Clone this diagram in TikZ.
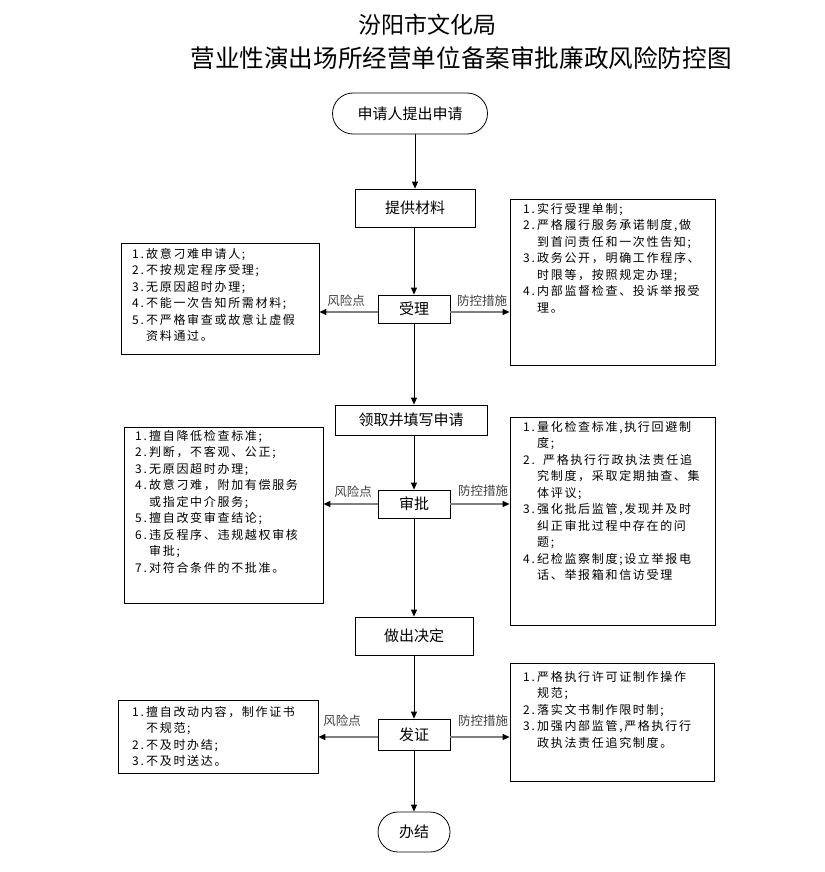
\documentclass[tikz,border=0pt]{standalone}
\usepackage{fontspec}
\setmainfont{Noto Sans CJK SC}
\newfontfamily\boxfont[LetterSpace=14]{Noto Sans CJK SC}
\usetikzlibrary{arrows.meta,shapes.misc}
\newcommand{\numbox}[1]{\makebox[14pt][l]{#1}}
\newcommand{\contind}{\hspace*{14pt}}
\definecolor{sidegray}{HTML}{7F7F7F}
\definecolor{labelgray}{HTML}{404040}
\tikzset{
  stepbox/.style={draw=black, line width=0.8pt, inner sep=0pt, font=\fontsize{15}{18}\selectfont},
  termbox/.style={stepbox, rounded rectangle},
  sidebox/.style={draw=black, line width=0.8pt, inner sep=0pt},
  sidetext/.style={anchor=north west, inner sep=0pt, align=left, font=\boxfont\fontsize{12}{16.5}\selectfont},
  flow/.style={draw=black, line width=0.8pt, -{Triangle[length=7pt,width=6pt]}},
  side/.style={draw=sidegray, line width=1.2pt, -{Triangle[length=7pt,width=6pt,color=black,fill=black]}},
  sidelabel/.style={inner sep=0pt, text=labelgray, font=\fontsize{12.5}{14}\selectfont},
  titlefont/.style={inner sep=0pt, font=\fontsize{23}{26}\selectfont}
}
\begin{document}
\begin{tikzpicture}[x=1pt,y=-1pt]
\useasboundingbox (0,0) rectangle (824,872);
\fill[white] (0,0) rectangle (824,872);

% titles
\node[titlefont] (t1) at (427,25) {汾阳市文化局};
\node[titlefont, font=\fontsize{24.6}{27}\selectfont] (t2) at (461,58) {营业性演出场所经营单位备案审批廉政风险防控图};

% main flow
\node[termbox, minimum width=155pt, minimum height=41pt] (start) at (410,113.5) {申请人提出申请};
\node[stepbox, minimum width=120pt, minimum height=38pt] (s1) at (415,208) {提供材料};
\node[stepbox, minimum width=72pt, minimum height=28pt] (s2) at (414,309) {受理};
\node[stepbox, minimum width=152pt, minimum height=30pt] (s3) at (411,420) {领取并填写申请};
\node[stepbox, minimum width=72pt, minimum height=28pt] (s4) at (414,504) {审批};
\node[stepbox, minimum width=118pt, minimum height=38pt] (s5) at (414,636) {做出决定};
\node[stepbox, minimum width=72pt, minimum height=31pt] (s6) at (414,734.5) {发证};
\node[termbox, minimum width=72pt, minimum height=40pt] (s7) at (414,832) {办结};

\draw[flow] (start.south -| s1.north) -- (s1.north);
\draw[flow] (s1.south -| s2.north) -- (s2.north);
\draw[flow] (s2.south) -- (s3.north -| s2.south);
\draw[flow] (s3.south -| s4.north) -- (s4.north);
\draw[flow] (s4.south) -- (s5.north);
\draw[flow] (s5.south) -- (s6.north);
\draw[flow] (s6.south) -- (s7.north);

% side boxes
\node[sidebox, minimum width=198pt, minimum height=111pt] (L1) at (220,298.5) {};
\node[sidebox, minimum width=205pt, minimum height=166pt] (R1) at (612.5,282) {};
\node[sidebox, minimum width=199pt, minimum height=176pt] (L2) at (223.5,515) {};
\node[sidebox, minimum width=205pt, minimum height=208pt] (R2) at (612.5,521) {};
\node[sidebox, minimum width=200pt, minimum height=73pt] (L3) at (218,736.5) {};
\node[sidebox, minimum width=204pt, minimum height=118pt] (R3) at (612,722) {};

% side connectors
\coordinate (a2) at (s2.west |- 0,312);
\coordinate (b2) at (s2.east |- 0,312);
\draw[side] (a2) -- (a2 -| L1.east);
\draw[side] (b2) -- (b2 -| R1.west);
\draw[side] (s4.west) -- (s4.west -| L2.east);
\draw[side] (s4.east) -- (s4.east -| R2.west);
\coordinate (a6) at (s6.west |- 0,737);
\coordinate (b6) at (s6.east |- 0,737);
\draw[side] (a6) -- (a6 -| L3.east);
\draw[side] (b6) -- (b6 -| R3.west);

\node[sidelabel] (k1) at (346,301) {风险点};
\node[sidelabel] (m1) at (482,301) {防控措施};
\node[sidelabel] (k2) at (353,492) {风险点};
\node[sidelabel] (m2) at (483,491) {防控措施};
\node[sidelabel] (k3) at (342,721) {风险点};
\node[sidelabel] (m3) at (483,721) {防控措施};

% side texts
\node[sidetext] (L1t) at (132,248) {%
\numbox{1.}故意刁难申请人;\\
\numbox{2.}不按规定程序受理;\\
\numbox{3.}无原因超时办理;\\
\numbox{4.}不能一次告知所需材料;\\
\numbox{5.}不严格审查或故意让虚假\\
\contind 资料通过。};

\node[sidetext] (R1t) at (523,203) {%
\numbox{1.}实行受理单制;\\
\numbox{2.}严格履行服务承诺制度,做\\
\contind 到首问责任和一次性告知;\\
\numbox{3.}政务公开，明确工作程序、\\
\contind 时限等，按照规定办理;\\
\numbox{4.}内部监督检查、投诉举报受\\
\contind 理。};

\node[sidetext] (L2t) at (135,430) {%
\numbox{1.}擅自降低检查标准;\\
\numbox{2.}判断，不客观、公正;\\
\numbox{3.}无原因超时办理;\\
\numbox{4.}故意刁难，附加有偿服务\\
\contind 或指定中介服务;\\
\numbox{5.}擅自改变审查结论;\\
\numbox{6.}违反程序、违规越权审核\\
\contind 审批;\\
\numbox{7.}对符合条件的不批准。};

\node[sidetext] (R2t) at (523,421) {%
\numbox{1.}量化检查标准,执行回避制\\
\contind 度;\\
\numbox{2.}\hspace{6pt}严格执行行政执法责任追\\
\contind 究制度，采取定期抽查、集\\
\contind 体评议;\\
\numbox{3.}强化批后监管,发现并及时\\
\contind 纠正审批过程中存在的问\\
\contind 题;\\
\numbox{4.}纪检监察制度;设立举报电\\
\contind 话、举报箱和信访受理};

\node[sidetext] (L3t) at (132,706) {%
\numbox{1.}擅自改动内容，制作证书\\
\contind 不规范;\\
\numbox{2.}不及时办结;\\
\numbox{3.}不及时送达。};

\node[sidetext] (R3t) at (523,671) {%
\numbox{1.}严格执行许可证制作操作\\
\contind 规范;\\
\numbox{2.}落实文书制作限时制;\\
\numbox{3.}加强内部监管,严格执行行\\
\contind 政执法责任追究制度。};
\end{tikzpicture}
\end{document}
